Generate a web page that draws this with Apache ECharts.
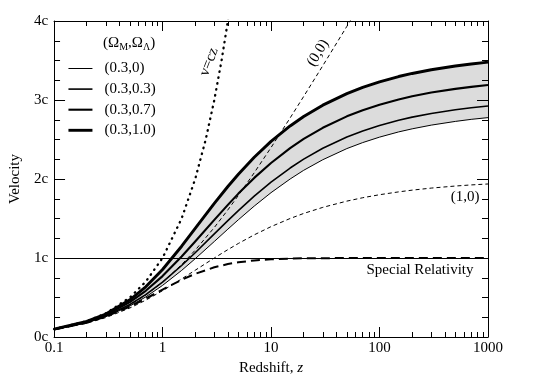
<!DOCTYPE html>
<html>
<head>
<meta charset="utf-8">
<script src="https://cdn.jsdelivr.net/npm/echarts@6/dist/echarts.min.js"></script>
<style>html,body{margin:0;padding:0;background:#fff}#c{width:540px;height:385px}</style>
</head>
<body>
<div id="c"></div>
<script>
// Redshift samples
const z = [0.1, 0.2, 0.3, 0.5, 0.7, 1, 1.5, 2, 3, 4, 5, 7, 10, 15, 20, 30, 50, 70, 100, 150, 200, 300, 500, 700, 1000];
// Velocity (units of c) for (Omega_M, Omega_Lambda) models
const v_03_0  = [0.094, 0.180, 0.257, 0.392, 0.507, 0.653, 0.843, 0.991, 1.209, 1.365, 1.484, 1.657, 1.827, 2.000, 2.110, 2.244, 2.385, 2.461, 2.530, 2.596, 2.635, 2.682, 2.729, 2.755, 2.777];
const v_03_03 = [0.096, 0.184, 0.266, 0.411, 0.536, 0.695, 0.905, 1.067, 1.305, 1.473, 1.600, 1.783, 1.960, 2.139, 2.251, 2.389, 2.531, 2.608, 2.677, 2.743, 2.783, 2.830, 2.877, 2.902, 2.925];
const v_03_07 = [0.098, 0.191, 0.279, 0.441, 0.585, 0.771, 1.019, 1.209, 1.483, 1.673, 1.815, 2.014, 2.203, 2.391, 2.507, 2.648, 2.793, 2.871, 2.941, 3.007, 3.047, 3.094, 3.141, 3.166, 3.189];
const v_03_10 = [0.099, 0.197, 0.291, 0.471, 0.636, 0.855, 1.149, 1.374, 1.691, 1.905, 2.060, 2.275, 2.476, 2.671, 2.791, 2.935, 3.081, 3.160, 3.229, 3.297, 3.336, 3.383, 3.431, 3.456, 3.479];
// Empty universe (0,0), Einstein-de Sitter (1,0), special relativity
const v_00    = [0.095, 0.182, 0.262, 0.405, 0.531, 0.693, 0.916, 1.099, 1.386, 1.609, 1.792, 2.079, 2.398, 2.773, 3.045, 3.434, 3.932, 4.263];
const v_10    = [0.093, 0.174, 0.246, 0.367, 0.466, 0.586, 0.735, 0.845, 1.000, 1.106, 1.184, 1.293, 1.397, 1.500, 1.564, 1.641, 1.720, 1.763, 1.801, 1.837, 1.859, 1.885, 1.911, 1.925, 1.937];
const v_sr    = [0.095, 0.180, 0.257, 0.385, 0.486, 0.600, 0.724, 0.800, 0.882, 0.923, 0.946, 0.969, 0.984, 0.992, 0.996, 0.998, 0.999, 1.000, 1.000, 1.000, 1.000, 1.000, 1.000, 1.000, 1.000];
// v = cz line
const czZ = [0.1, 0.2, 0.3, 0.5, 0.7, 1, 1.5, 2, 2.5, 3, 3.5, 4, 4.5];
const czV = [0.1, 0.2, 0.3, 0.5, 0.7, 1, 1.5, 2, 2.5, 3, 3.5, 4, 4.5];
// Axis ticks
const xMajorTicks = [0.1, 1, 10, 100, 1000];
const xMinorTicks = [0.2,0.3,0.4,0.5,0.6,0.7,0.8,0.9, 2,3,4,5,6,7,8,9, 20,30,40,50,60,70,80,90, 200,300,400,500,600,700,800,900];
const legendNames = ['(0.3,0)', '(0.3,0.3)', '(0.3,0.7)', '(0.3,1.0)'];

const FONT = '"Liberation Serif", "Times New Roman", serif';
const pairs = (xs, ys) => ys.map((y, i) => [xs[i], y]);
const widths = {'(0.3,0)': 1, '(0.3,0.3)': 1.6, '(0.3,0.7)': 2.1, '(0.3,1.0)': 2.9};

const chart = echarts.init(document.getElementById('c'), null, {renderer: 'canvas'});

const axisLine = {show: true, lineStyle: {color: '#000', width: 1}};
function xAx(pos, major, showLabel) {
  return {
    type: 'log', logBase: 10, min: 0.1, max: 1000, position: pos, gridIndex: 0, z: 6,
    axisLine: major ? axisLine : {show: false},
    axisTick: {show: true, inside: true, length: major ? 10 : 5, customValues: major ? xMajorTicks : xMinorTicks, lineStyle: {color: '#000', width: 1}},
    axisLabel: showLabel ? {show: true, customValues: xMajorTicks, color: '#000', fontFamily: FONT, fontSize: 15, margin: 4,
      formatter: v => String(v)} : {show: false},
    splitLine: {show: false}, minorTick: {show: false}, minorSplitLine: {show: false},
    name: showLabel ? 'Redshift, {i|z}' : '', nameLocation: 'middle', nameGap: 22,
    nameTextStyle: {color: '#000', fontFamily: FONT, fontSize: 15, rich: {i: {fontStyle: 'italic', fontFamily: FONT, fontSize: 15, color: '#000'}}}
  };
}
function yAx(pos, showLabel) {
  return {
    type: 'value', min: 0, max: 4, interval: 1, position: pos, gridIndex: 0, z: 6,
    axisLine: axisLine,
    axisTick: {show: true, inside: true, length: 11, lineStyle: {color: '#000', width: 1}},
    minorTick: {show: true, splitNumber: 4, length: 6, lineStyle: {color: '#000', width: 1}},
    axisLabel: showLabel ? {show: true, color: '#000', fontFamily: FONT, fontSize: 15, margin: 6, formatter: v => v + 'c'} : {show: false},
    splitLine: {show: false}, minorSplitLine: {show: false},
    name: showLabel ? 'Velocity' : '', nameLocation: 'middle', nameGap: 27,
    nameTextStyle: {color: '#000', fontFamily: FONT, fontSize: 15}
  };
}
function lineSeries(name, data, width, type, extra) {
  return Object.assign({
    name: name, type: 'line', data: data, xAxisIndex: 0, yAxisIndex: 0,
    symbol: 'none', showSymbol: false, smooth: false, clip: true,
    lineStyle: {color: '#000', width: width, type: type || 'solid', join: 'round'},
    itemStyle: {color: '#000'}, silent: true, z: 5
  }, extra || {});
}

const option = {
  animation: false,
  backgroundColor: '#fff',
  grid: {left: 49, right: 52, top: 21, bottom: 48, containLabel: false},
  xAxis: [xAx('bottom', true, true), xAx('bottom', false, false), xAx('top', true, false), xAx('top', false, false)],
  yAxis: [yAx('left', true), yAx('right', false)],
  legend: {
    data: legendNames.map(n => ({name: n, lineStyle: {width: widths[n], color: '#000'}})),
    orient: 'vertical', left: 67, top: 61, padding: 0,
    itemWidth: 24, itemHeight: 14, itemGap: 5.6, selectedMode: false,
    itemStyle: {opacity: 0},
    textStyle: {color: '#000', fontFamily: FONT, fontSize: 15, padding: [0, 0, 0, 7]}
  },
  series: [
    {
      name: 'band', type: 'custom', xAxisIndex: 0, yAxisIndex: 0, silent: true, z: 1, clip: true,
      data: [[1, 1]],
      renderItem: function (params, api) {
        const upper = z.map((x, i) => api.coord([x, v_03_10[i]]));
        const lower = z.map((x, i) => api.coord([x, v_03_0[i]])).reverse();
        return {type: 'polygon', shape: {points: upper.concat(lower)}, style: {fill: '#dcdcdc', stroke: null}};
      }
    },
    lineSeries('(0.3,0)', pairs(z, v_03_0), widths['(0.3,0)']),
    lineSeries('(0.3,0.3)', pairs(z, v_03_03), widths['(0.3,0.3)']),
    lineSeries('(0.3,0.7)', pairs(z, v_03_07), widths['(0.3,0.7)']),
    lineSeries('(0.3,1.0)', pairs(z, v_03_10), widths['(0.3,1.0)']),
    lineSeries('(0,0)', pairs(z, v_00), 1, [4, 3]),
    lineSeries('(1,0)', pairs(z, v_10), 1, [4, 3]),
    lineSeries('Special Relativity', pairs(z, v_sr), 2, [9, 5], {
      markLine: {silent: true, symbol: 'none', label: {show: false},
        lineStyle: {color: '#000', type: 'solid', width: 1}, data: [{yAxis: 1}]}
    }),
    lineSeries('v=cz', pairs(czZ, czV), 2.3, [0.5, 5.5], {lineStyle: {color: '#000', width: 2.3, type: [0.5, 5.5], cap: 'round'}})
  ],
  graphic: [
    {type: 'text', left: 103, top: 36, silent: true,
      style: {text: '(Ω{s|M},Ω{s|Λ})', fill: '#000', font: '15px ' + FONT,
        rich: {s: {fontSize: 10, fontFamily: FONT, fill: '#000', padding: [7, 0, 0, 0], verticalAlign: 'bottom'}}}},
    {type: 'text', x: 209, y: 62, rotation: 69 * Math.PI / 180, silent: true,
      style: {text: 'v=cz', fill: '#000', font: '15px ' + FONT, align: 'center', verticalAlign: 'middle'}},
    {type: 'text', x: 318, y: 53, rotation: 59 * Math.PI / 180, silent: true,
      style: {text: '(0,0)', fill: '#000', font: '15px ' + FONT, align: 'center', verticalAlign: 'middle'}},
    {type: 'text', x: 465, y: 197, silent: true,
      style: {text: '(1,0)', fill: '#000', font: '15px ' + FONT, align: 'center', verticalAlign: 'middle'}},
    {type: 'text', x: 420, y: 270, silent: true,
      style: {text: 'Special Relativity', fill: '#000', font: '15px ' + FONT, align: 'center', verticalAlign: 'middle'}}
  ]
};
chart.setOption(option);
</script>
</body>
</html>
